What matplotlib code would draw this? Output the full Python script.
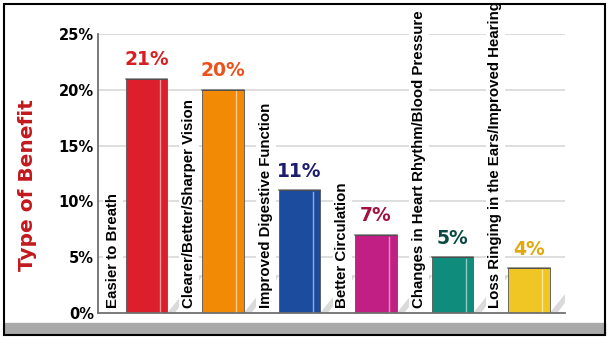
import matplotlib
matplotlib.use("Agg")
from matplotlib import pyplot as plt
from matplotlib.patches import Rectangle, Polygon

benefits = ["Easier to Breath", "Clearer/Better/Sharper Vision", "Improved Digestive Function",
            "Better Circulation", "Changes in Heart Rhythm/Blood Pressure",
            "Loss Ringing in the Ears/Improved Hearing"]
percent = [21, 20, 11, 7, 5, 4]
bar_colors = ["#dc1f2a", "#f28a06", "#1b4c9e", "#c21f84", "#0f8c7c", "#f0c624"]
label_colors = ["#d81e22", "#ec521c", "#1c1c70", "#a3123e", "#0b4a42", "#e2a80a"]
yticks = [0, 5, 10, 15, 20, 25]

fig = plt.figure(figsize=(6.1, 3.4), dpi=100)
ax = fig.add_axes([98 / 610, 1 - 313 / 340, 467 / 610, 279 / 340])

# gridlines
for t in yticks[1:]:
    ax.axhline(t, color="#d8d8d8", lw=1.2, zorder=0)

w = 0.54
xs = list(range(len(percent)))
for x, p, c, lc, name in zip(xs, percent, bar_colors, label_colors, benefits):
    r = x + w / 2
    # shadow
    ax.add_patch(Polygon([(r, 0), (r + 0.4, 3.4), (r + 0.47, 3.4), (r + 0.1, 0)],
                         closed=True, color="#dadada", zorder=1, lw=0))
    ax.bar(x, p, width=w, color=c, edgecolor="#555555", lw=0.6, zorder=2)
    # side face divider and top edge
    ax.plot([x + 0.17, x + 0.17], [0.15, p - 0.15], color="white", lw=1.0, alpha=0.55, zorder=3)
    ax.plot([x - w / 2, x + w / 2], [p, p], color="#3a3a3a", lw=1.2, alpha=0.6, zorder=3)
    ax.text(x, p + 0.85, f"{p}%", color=lc, fontsize=13.5, fontweight="heavy",
            ha="center", va="bottom", zorder=4)
    ax.text(x - 0.44, 0.45, name, rotation=90, ha="center", va="bottom",
            fontsize=10.8, family="Liberation Sans", fontweight="bold", color="black",
            clip_on=False, bbox=dict(facecolor="white", edgecolor="none", pad=2), zorder=3)

ax.set_xlim(-0.634, 5.47)
ax.set_ylim(0, 25)
ax.set_yticks(yticks)
ax.set_yticklabels([f"{t}%" for t in yticks], fontsize=10.5, fontweight="heavy")
ax.tick_params(axis="y", length=0, pad=3)
ax.set_xticks([])
for s in ["top", "right"]:
    ax.spines[s].set_visible(False)
ax.spines["left"].set_color("#707070")
ax.spines["left"].set_linewidth(1.3)
ax.spines["bottom"].set_color("#707070")
ax.spines["bottom"].set_linewidth(1.3)
ax.set_facecolor("none")

fig.text(28 / 610, 1 - 185 / 340, "Type of Benefit", rotation=90, color="#c2191d",
         fontsize=14.5, fontweight="heavy", ha="center", va="center")

# frame and bottom strip
fig.patches.append(Rectangle((5 / 610, 1 - 334 / 340), 600 / 610, 11 / 340,
                             transform=fig.transFigure, color="#a9a9a9", zorder=-1))
fig.patches.append(Rectangle((4 / 610, 1 - 335 / 340), 601 / 610, 331 / 340,
                             transform=fig.transFigure, fill=False, edgecolor="black",
                             lw=1.5, zorder=5))

fig.savefig("out.png", dpi=100)
